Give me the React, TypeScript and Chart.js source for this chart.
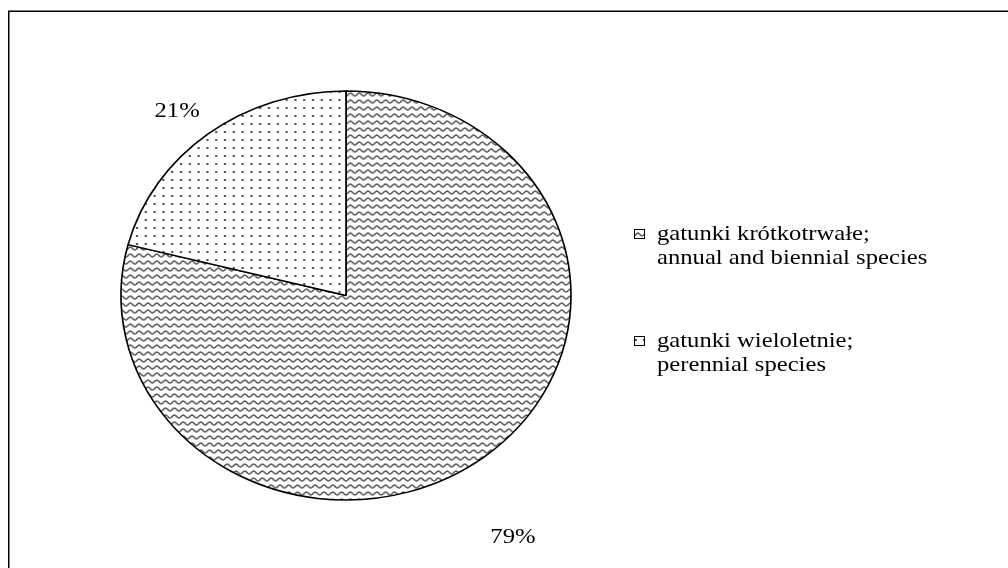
import { useEffect, useRef } from "react";
import { Chart, registerables } from "chart.js";

Chart.register(...registerables);

// Species groups (Polish; English) and their share of the flora, in percent
const categoryPl = ["gatunki krótkotrwałe;", "gatunki wieloletnie;"];
const categoryEn = ["annual and biennial species", "perennial species"];
const shares = [79, 21];
const shareLabels = ["79%", "21%"];

// Layout constants
const W = 1008;
const H = 568;
const CX = 346;
const CY = 295.5;
const RY = 204.5;
const RX = 225;
const SX = RX / RY; // horizontal stretch that turns the pie into an ellipse
const TX = 1.12; // horizontal stretch of the text
const FONT = '"Liberation Serif", "Times New Roman", serif';
// Offset of each percentage label from the rim point at the middle of its slice
const LABEL_NUDGE: [number, number][] = [
  [29, 80],
  [-31, -23],
];

function wavePattern(ctx: CanvasRenderingContext2D): CanvasPattern {
  const c = document.createElement("canvas");
  c.width = 8;
  c.height = 7;
  const g = c.getContext("2d")!;
  g.fillStyle = "#ffffff";
  g.fillRect(0, 0, 8, 7);
  g.strokeStyle = "#4a4a4a";
  g.lineWidth = 1.3;
  g.beginPath();
  for (let x = -1; x <= 9.01; x += 0.5) {
    const y = 3.5 + 1.5 * Math.sin((x / 8) * 2 * Math.PI);
    if (x === -1) g.moveTo(x, y);
    else g.lineTo(x, y);
  }
  g.stroke();
  return ctx.createPattern(c, "repeat")!;
}

function dotPattern(ctx: CanvasRenderingContext2D): CanvasPattern {
  const c = document.createElement("canvas");
  c.width = 8;
  c.height = 8;
  const g = c.getContext("2d")!;
  g.fillStyle = "#ffffff";
  g.fillRect(0, 0, 8, 8);
  g.fillStyle = "#555555";
  g.fillRect(3, 3, 2, 2);
  return ctx.createPattern(c, "repeat")!;
}

function stretchedText(
  ctx: CanvasRenderingContext2D,
  text: string,
  x: number,
  y: number
) {
  ctx.save();
  ctx.translate(x, y);
  ctx.scale(TX, 1);
  ctx.fillText(text, 0, 0);
  ctx.restore();
}

// Squeezes the pie's drawing horizontally so it renders as an ellipse
const ellipsePlugin = {
  id: "ellipse",
  beforeDatasetsDraw(chart: any) {
    const arc = chart.getDatasetMeta(0).data[0];
    const ctx = chart.ctx;
    ctx.save();
    ctx.translate(arc.x, arc.y);
    ctx.scale(SX, 1);
    ctx.translate(-arc.x, -arc.y);
  },
  afterDatasetsDraw(chart: any) {
    chart.ctx.restore();
  },
};

// Frame, percentage labels and the two-line legend
const decorPlugin = {
  id: "decor",
  afterDraw(chart: any) {
    const ctx: CanvasRenderingContext2D = chart.ctx;
    const meta = chart.getDatasetMeta(0);
    const ds = chart.data.datasets[0];

    ctx.save();
    // frame
    ctx.strokeStyle = "#000";
    ctx.lineWidth = 1.5;
    ctx.beginPath();
    ctx.moveTo(8.75, H);
    ctx.lineTo(8.75, 11.35);
    ctx.lineTo(W, 11.35);
    ctx.stroke();

    // percentage labels
    ctx.fillStyle = "#000";
    ctx.font = `22px ${FONT}`;
    ctx.textAlign = "center";
    ctx.textBaseline = "middle";
    meta.data.forEach((arc: any, i: number) => {
      const mid = (arc.startAngle + arc.endAngle) / 2;
      const ex = arc.x + Math.cos(mid) * arc.outerRadius * SX;
      const ey = arc.y + Math.sin(mid) * arc.outerRadius;
      const [dx, dy] = LABEL_NUDGE[i];
      stretchedText(ctx, shareLabels[i], ex + dx, ey + dy);
    });

    // legend
    const boxX = 634;
    const textX = 657;
    const rowY = [234, 341];
    const lineGap = 24;
    ctx.font = `22px ${FONT}`;
    ctx.textAlign = "left";
    categoryPl.forEach((pl, i) => {
      const y = rowY[i];
      ctx.fillStyle = ds.backgroundColor[i];
      ctx.fillRect(boxX, y - 5, 11, 10);
      ctx.lineWidth = 1;
      ctx.strokeStyle = "#000";
      ctx.strokeRect(boxX + 0.5, y - 4.5, 10, 9);
      ctx.fillStyle = "#000";
      stretchedText(ctx, pl, textX, y);
      stretchedText(ctx, categoryEn[i], textX, y + lineGap);
    });
    ctx.restore();
  },
};

export default function App() {
  const ref = useRef<HTMLCanvasElement>(null);

  useEffect(() => {
    const canvas = ref.current!;
    const ctx = canvas.getContext("2d")!;
    const side = 2 * (RY + 0.75);
    const left = CX - side / 2;
    const top = CY - side / 2;
    const chart = new Chart(canvas, {
      type: "pie",
      data: {
        labels: categoryPl.map((pl, i) => `${pl} ${categoryEn[i]}`),
        datasets: [
          {
            data: shares,
            backgroundColor: [wavePattern(ctx), dotPattern(ctx)] as any,
            borderColor: "#000",
            borderWidth: 1.5,
            borderAlign: "center",
            clip: false as any,
          },
        ],
      },
      options: {
        responsive: false,
        animation: false,
        devicePixelRatio: 1,
        layout: {
          padding: {
            left,
            top,
            right: W - left - side,
            bottom: H - top - side,
          },
        },
        plugins: {
          legend: { display: false },
          tooltip: { enabled: false },
        },
      },
      plugins: [ellipsePlugin, decorPlugin],
    });
    return () => chart.destroy();
  }, []);

  return (
    <div
      style={{
        position: "fixed",
        left: 0,
        top: 0,
        width: W,
        height: H,
        background: "#fff",
        overflow: "hidden",
      }}
    >
      <canvas ref={ref} width={W} height={H} style={{ display: "block" }} />
    </div>
  );
}
